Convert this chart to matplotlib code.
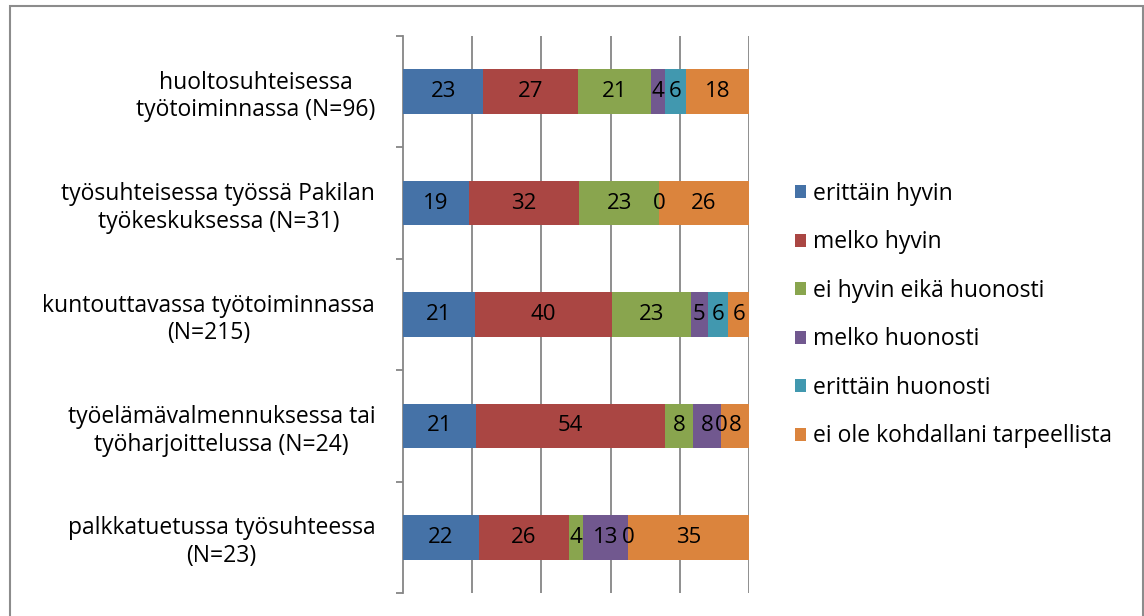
import matplotlib.pyplot as plt
import numpy as np
from matplotlib.patches import Rectangle

plt.rcParams["font.family"] = ["Open Sans", "DejaVu Sans"]

categories = [
    "huoltosuhteisessa\ntyötoiminnassa (N=96)",
    "työsuhteisessa työssä Pakilan\ntyökeskuksessa (N=31)",
    "kuntouttavassa työtoiminnassa\n(N=215)",
    "työelämävalmennuksessa tai\ntyöharjoittelussa (N=24)",
    "palkkatuetussa työsuhteessa\n(N=23)",
]
series_names = [
    "erittäin hyvin",
    "melko hyvin",
    "ei hyvin eikä huonosti",
    "melko huonosti",
    "erittäin huonosti",
    "ei ole kohdallani tarpeellista",
]
erittain_hyvin = [23, 19, 21, 21, 22]
melko_hyvin = [27, 32, 40, 54, 26]
ei_hyvin_eika_huonosti = [21, 23, 23, 8, 4]
melko_huonosti = [4, 0, 5, 8, 13]
erittain_huonosti = [6, np.nan, 6, 0, 0]
ei_tarpeellista = [18, 26, 6, 8, 35]

colors = ["#4572A7", "#AA4643", "#89A54E", "#71588F", "#4198AF", "#DB843D"]

data = np.array([erittain_hyvin, melko_hyvin, ei_hyvin_eika_huonosti,
                 melko_huonosti, erittain_huonosti, ei_tarpeellista], dtype=float)
filled = np.nan_to_num(data)
pct = filled / filled.sum(axis=0) * 100

fig = plt.figure(figsize=(11.44, 6.16), dpi=100)
ax = fig.add_axes([403 / 1144, 1 - 593 / 616, 346 / 1144, 557 / 616])

y = np.arange(len(categories))
left = np.zeros(len(categories))
for i, name in enumerate(series_names):
    bars = ax.barh(y, pct[i], left=left, height=0.4, color=colors[i],
                   label=name, zorder=3)
    for j, b in enumerate(bars):
        if np.isnan(data[i, j]):
            continue
        ax.text(left[j] + pct[i, j] / 2, y[j], f"{data[i, j]:.0f}",
                ha="center", va="center", fontsize=16, color="black", zorder=4)
    left += pct[i]

ax.set_xlim(0, 100)
ax.set_ylim(len(categories) - 0.5, -0.5)
ax.set_xticks([20, 40, 60, 80, 100])
ax.set_xticklabels([])
ax.tick_params(axis="x", length=0)
ax.grid(axis="x", color="#868686", linewidth=1.3, zorder=0)

ax.set_yticks(y)
ax.set_yticklabels(categories, fontsize=16.5, multialignment="center",
                   linespacing=1.2)
ax.tick_params(axis="y", which="major", length=0, pad=20)
ax.set_yticks(np.arange(len(categories) + 1) - 0.5, minor=True)
ax.tick_params(axis="y", which="minor", length=5, width=1.3, color="#868686")

for s in ["top", "right", "bottom"]:
    ax.spines[s].set_visible(False)
ax.spines["left"].set_color("#868686")
ax.spines["left"].set_linewidth(1.3)

fig.legend(loc="center left", bbox_to_anchor=(774 / 1144, 1 - 315 / 616),
           frameon=False, fontsize=16.5, handlelength=0.5, handleheight=0.5,
           handletextpad=0.3, labelspacing=1.07)

fig.patches.append(Rectangle((10 / 1144, -0.02), 1133 / 1144, 1 - 6 / 616 + 0.02,
                             transform=fig.transFigure, fill=False,
                             edgecolor="#8c8c8c", linewidth=1.5))

fig.savefig("out.png", dpi=100)
